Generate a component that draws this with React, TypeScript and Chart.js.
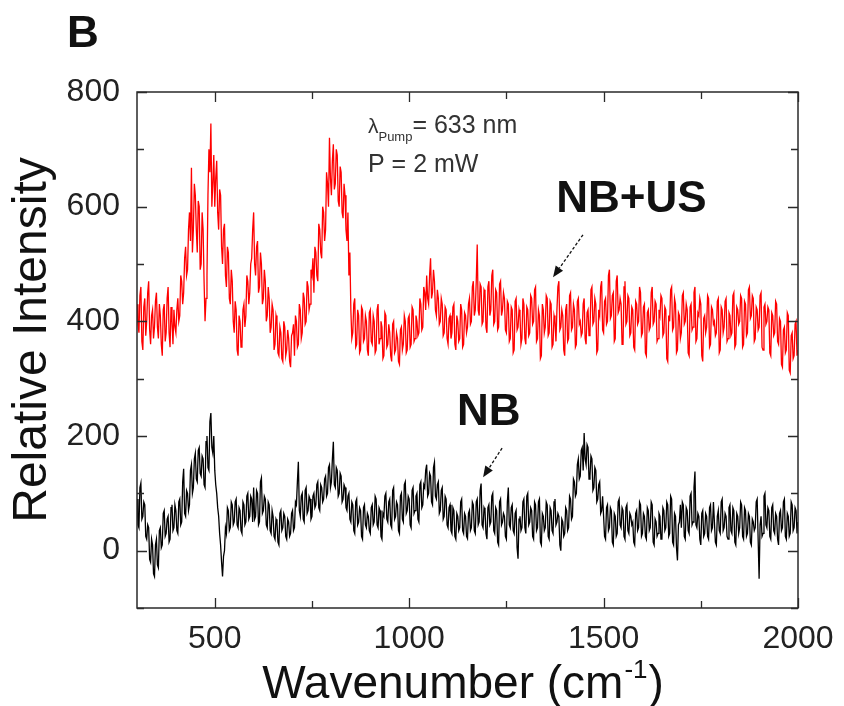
import React, { useEffect, useRef } from "react";
import { Chart, registerables } from "chart.js";

Chart.register(...registerables);

// Wavenumber sampling grid (cm^-1)
const WN_START = 300;
const WN_STEP = 2.5;

// NB+US spectrum (red), one row = 50 cm^-1
const nbUs: number[] = [
  430, 395, 380, 445, 460, 365, 350, 425, 440, 375, 400, 450, 470, 385, 360, 410, 420, 370, 390, 435, // 300
  450, 390, 370, 430, 410, 360, 340, 420, 430, 365, 380, 440, 460, 380, 355, 425, 400, 360, 420, 390, // 350
  380, 420, 440, 400, 410, 480, 470, 430, 450, 510, 530, 480, 490, 560, 590, 540, 668, 520, 560, 640, // 400
  620, 560, 520, 610, 600, 490, 500, 590, 560, 470, 400, 440, 480, 620, 700, 660, 745, 600, 640, 690, // 450
  600, 650, 680, 590, 560, 630, 620, 530, 500, 560, 570, 480, 460, 530, 520, 440, 430, 490, 470, 400, // 500
  380, 435, 420, 350, 340, 410, 400, 355, 360, 420, 430, 390, 410, 480, 470, 430, 450, 500, 510, 560, // 550
  590, 500, 480, 530, 540, 450, 460, 520, 500, 430, 440, 490, 470, 400, 410, 460, 440, 380, 390, 430, // 600
  420, 350, 360, 410, 400, 345, 340, 390, 380, 335, 330, 400, 390, 340, 350, 385, 370, 330, 320, 375, // 650
  380, 395, 340, 410, 400, 355, 360, 430, 420, 370, 380, 450, 440, 395, 400, 470, 460, 420, 430, 490, // 700
  480, 510, 450, 530, 520, 480, 470, 570, 560, 520, 510, 600, 590, 540, 560, 660, 640, 600, 720, 650, // 750
  620, 680, 709, 630, 640, 700, 690, 610, 600, 670, 660, 590, 580, 640, 620, 560, 540, 590, 480, 520, // 800
  420, 370, 380, 430, 440, 355, 360, 420, 410, 345, 350, 425, 420, 365, 370, 410, 400, 350, 340, 415, // 850
  420, 365, 360, 410, 400, 345, 350, 420, 430, 360, 370, 400, 390, 335, 340, 415, 410, 355, 360, 395, // 900
  380, 340, 330, 395, 400, 345, 350, 380, 370, 330, 325, 385, 390, 350, 360, 410, 400, 345, 350, 405, // 950
  410, 355, 360, 425, 420, 365, 370, 410, 400, 375, 380, 440, 430, 385, 390, 460, 450, 420, 480, 440, // 1000
  430, 480, 510, 440, 450, 490, 470, 420, 410, 455, 440, 395, 400, 440, 430, 375, 380, 425, 420, 370, // 1050
  360, 405, 410, 370, 380, 425, 430, 360, 350, 410, 400, 365, 370, 430, 420, 355, 360, 415, 410, 380, // 1100
  390, 430, 440, 395, 400, 460, 470, 410, 420, 470, 534, 420, 410, 465, 460, 395, 400, 455, 450, 390, // 1150
  380, 460, 470, 410, 420, 480, 490, 395, 400, 455, 450, 385, 390, 465, 470, 410, 420, 450, 440, 385, // 1200
  380, 435, 430, 365, 370, 425, 420, 345, 350, 435, 440, 385, 390, 420, 410, 360, 370, 440, 430, 370, // 1250
  360, 425, 420, 375, 380, 445, 440, 395, 400, 455, 460, 365, 370, 420, 410, 335, 340, 430, 420, 380, // 1300
  390, 445, 440, 375, 380, 435, 430, 355, 360, 410, 400, 365, 420, 460, 470, 385, 390, 420, 410, 350, // 1350
  340, 420, 430, 365, 370, 445, 450, 385, 390, 430, 420, 355, 360, 435, 440, 395, 400, 375, 380, 430, // 1400
  440, 370, 360, 415, 420, 375, 380, 455, 460, 395, 400, 440, 430, 345, 350, 420, 410, 460, 470, 385, // 1450
  380, 435, 440, 395, 400, 480, 490, 405, 410, 445, 450, 365, 370, 470, 480, 415, 420, 440, 430, 360, // 1500
  360, 460, 470, 395, 400, 445, 440, 375, 380, 425, 420, 355, 350, 435, 430, 395, 400, 460, 450, 375, // 1550
  380, 425, 430, 345, 340, 415, 420, 385, 390, 450, 460, 395, 400, 435, 430, 365, 370, 420, 410, 445, // 1600
  440, 375, 380, 425, 420, 335, 330, 410, 400, 455, 460, 385, 390, 440, 430, 345, 350, 415, 410, 370, // 1650
  380, 445, 450, 395, 400, 430, 420, 345, 340, 425, 430, 385, 390, 450, 460, 365, 370, 415, 410, 440, // 1700
  430, 340, 330, 405, 410, 380, 390, 445, 440, 355, 360, 425, 420, 395, 400, 375, 380, 435, 440, 345, // 1750
  350, 425, 420, 380, 390, 435, 440, 365, 370, 415, 410, 375, 380, 445, 450, 355, 360, 425, 420, 395, // 1800
  400, 445, 440, 355, 360, 435, 430, 375, 380, 455, 460, 405, 410, 445, 440, 365, 370, 425, 420, 385, // 1850
  390, 445, 450, 355, 350, 425, 430, 395, 400, 425, 420, 345, 340, 415, 410, 375, 380, 435, 430, 365, // 1900
  360, 405, 400, 325, 320, 385, 390, 345, 350, 415, 410, 315, 310, 375, 380, 335, 340, 395, 400, 340, // 1950
  350, // 2000
];

// NB spectrum (black), one row = 50 cm^-1
const nb: number[] = [
  90, 45, 40, 110, 118, 55, 60, 85, 80, 25, 20, 45, 40, -15, -20, 20, 10, -40, -45, 10, // 300
  20, -25, -30, 35, 40, 5, 10, 65, 70, 25, 30, 55, 60, 15, 20, 75, 80, 35, 40, 80, // 350
  70, 35, 30, 85, 90, 45, 50, 120, 143, 65, 60, 105, 100, 70, 80, 140, 150, 100, 110, 160, // 400
  170, 125, 120, 175, 180, 135, 130, 165, 160, 115, 110, 190, 200, 145, 140, 225, 240, 180, 170, 200, // 450
  140, 115, 100, 75, 60, 30, 10, -20, -45, -10, 0, 40, 30, 75, 70, 35, 40, 85, 80, 45, // 500
  50, 85, 90, 45, 40, 75, 70, 35, 30, 85, 80, 45, 50, 95, 100, 55, 60, 95, 90, 50, // 550
  110, 55, 60, 105, 100, 45, 50, 120, 127, 65, 70, 95, 90, 45, 40, 85, 80, 35, 30, 70, // 600
  60, 25, 20, 55, 50, 15, 10, 65, 70, 35, 40, 65, 60, 25, 20, 55, 50, 25, 30, 65, // 650
  70, 35, 40, 85, 80, 120, 155, 70, 60, 95, 100, 55, 50, 105, 110, 65, 70, 95, 90, 55, // 700
  60, 95, 100, 75, 80, 115, 120, 75, 70, 115, 110, 85, 90, 125, 130, 95, 100, 145, 150, 110, // 750
  120, 160, 190, 115, 110, 145, 140, 95, 100, 135, 130, 85, 90, 115, 110, 75, 70, 95, 100, 55, // 800
  50, 85, 80, 35, 30, 85, 90, 45, 50, 75, 70, 25, 20, 75, 80, 45, 40, 65, 60, 35, // 850
  30, 75, 80, 45, 50, 95, 90, 45, 40, 75, 70, 25, 20, 65, 60, 95, 100, 55, 50, 85, // 900
  90, 45, 40, 105, 110, 55, 60, 85, 80, 35, 30, 95, 100, 55, 50, 115, 120, 65, 70, 95, // 950
  90, 45, 40, 105, 110, 65, 70, 95, 100, 55, 50, 115, 120, 75, 80, 115, 110, 140, 150, 95, // 1000
  100, 135, 130, 85, 80, 145, 154, 95, 90, 115, 120, 65, 70, 105, 110, 55, 60, 95, 90, 45, // 1050
  40, 75, 80, 35, 30, 75, 70, 25, 20, 65, 60, 35, 40, 85, 90, 35, 30, 65, 60, 25, // 1100
  21, 65, 70, 35, 40, 85, 80, 35, 30, 85, 90, 45, 50, 105, 117, 45, 40, 75, 70, 30, // 1150
  20, 75, 80, 45, 50, 95, 100, 35, 30, 75, 70, 15, 10, 85, 90, 45, 50, 65, 60, 25, // 1200
  20, 85, 110, 45, 40, 75, 80, 35, 30, 65, 70, 5, -14, 55, 60, 35, 40, 85, 90, 40, // 1250
  30, 95, 100, 45, 50, 75, 70, 25, 20, 85, 80, 35, 40, 85, 90, 15, 10, 65, 60, 35, // 1300
  40, 85, 80, 25, 20, 75, 70, 35, 30, 85, 90, 45, 50, 65, 60, 10, 0, 55, 50, 25, // 1350
  30, 75, 70, 35, 40, 95, 90, 55, 60, 125, 120, 95, 100, 150, 160, 125, 130, 175, 180, 140, // 1400
  205, 160, 150, 185, 180, 125, 130, 165, 160, 105, 110, 145, 140, 85, 90, 115, 120, 65, 70, 95, // 1450
  60, 25, 20, 75, 80, 35, 40, 75, 70, 15, 10, 65, 60, 25, 30, 85, 90, 45, 40, 75, // 1500
  70, 25, 20, 75, 80, 35, 30, 65, 60, 45, 50, 15, 10, 65, 70, 35, 40, 85, 80, 25, // 1550
  30, 65, 60, 25, 20, 75, 70, 35, 40, 85, 80, 15, 10, 55, 50, 25, 30, 65, 60, 20, // 1600
  20, 75, 70, 35, 40, 85, 80, 25, 30, 95, 90, 15, 10, 65, 60, 5, -17, 45, 50, 80, // 1650
  40, 85, 80, 25, 20, 75, 70, 35, 30, 95, 100, 45, 50, 110, 138, 45, 40, 65, 60, 20, // 1700
  10, 65, 70, 25, 30, 65, 60, 25, 20, 75, 80, 35, 40, 85, 50, 15, 10, 60, 70, 35, // 1750
  30, 85, 90, 35, 40, 65, 60, 25, 20, 75, 80, 35, 30, 75, 70, 15, 10, 65, 60, 30, // 1800
  40, 85, 80, 25, 20, 75, 70, 25, 30, 65, 60, 15, 10, 55, 50, 35, 40, 85, 90, 20, // 1850
  -49, 45, 60, 25, 30, 95, 100, 45, 40, 75, 70, 25, 20, 75, 80, 35, 30, 65, 60, 20, // 1900
  10, 65, 70, 35, 40, 85, 90, 25, 20, 65, 60, 25, 30, 85, 80, 35, 40, 75, 70, 30, // 1950
  50, // 2000
];

const X_MIN = 300;
const X_MAX = 2000;
const Y_MIN = -100;
const Y_MAX = 800;
const X_TICKS = [500, 750, 1000, 1250, 1500, 1750, 2000];
const Y_TICKS = [-100, 0, 100, 200, 300, 400, 500, 600, 700, 800];

const FONT = '"Liberation Sans", Arial, sans-serif';

// annotation anchors in data units
const PUMP_TEXT_AT = { x: 894, y: 729 };
const POWER_TEXT_AT = { x: 894, y: 660 };
const NBUS_LABEL_AT = { x: 1378, y: 591 };
const NBUS_ARROW = { x1: 1447, y1: 551, x2: 1370, y2: 477 };
const NB_LABEL_AT = { x: 1123, y: 219 };
const NB_ARROW = { x1: 1239, y1: 179, x2: 1190, y2: 128 };

function toPoints(values: number[]) {
  return values.map((v, i) => ({ x: WN_START + i * WN_STEP, y: v }));
}

function drawArrow(ctx: CanvasRenderingContext2D, x1: number, y1: number, x2: number, y2: number) {
  const ang = Math.atan2(y2 - y1, x2 - x1);
  const headLen = 11;
  const headW = 4.5;
  const bx = x2 - Math.cos(ang) * headLen;
  const by = y2 - Math.sin(ang) * headLen;
  ctx.save();
  ctx.strokeStyle = "#111";
  ctx.fillStyle = "#111";
  ctx.lineWidth = 1.3;
  ctx.setLineDash([3, 2]);
  ctx.beginPath();
  ctx.moveTo(x1, y1);
  ctx.lineTo(bx, by);
  ctx.stroke();
  ctx.setLineDash([]);
  ctx.beginPath();
  ctx.moveTo(x2, y2);
  ctx.lineTo(bx + Math.sin(ang) * headW, by - Math.cos(ang) * headW);
  ctx.lineTo(bx - Math.sin(ang) * headW, by + Math.cos(ang) * headW);
  ctx.closePath();
  ctx.fill();
  ctx.restore();
}

const decorPlugin = {
  id: "decor",
  afterDraw(chart: any) {
    const { ctx, chartArea: a, scales } = chart;
    const xs = scales.x;
    const ys = scales.y;
    ctx.save();
    // frame
    ctx.strokeStyle = "#2a2a2a";
    ctx.lineWidth = 1.5;
    ctx.strokeRect(a.left, a.top, a.right - a.left, a.bottom - a.top);
    // inward ticks
    ctx.lineWidth = 1.3;
    ctx.beginPath();
    for (const v of X_TICKS) {
      const px = Math.round(xs.getPixelForValue(v)) + 0.5;
      const len = v % 500 === 0 ? 10 : 7;
      ctx.moveTo(px, a.bottom);
      ctx.lineTo(px, a.bottom - len);
      ctx.moveTo(px, a.top);
      ctx.lineTo(px, a.top + len);
    }
    for (const v of Y_TICKS) {
      const py = Math.round(ys.getPixelForValue(v)) + 0.5;
      const len = v % 200 === 0 ? 10 : 7;
      ctx.moveTo(a.left, py);
      ctx.lineTo(a.left + len, py);
      ctx.moveTo(a.right, py);
      ctx.lineTo(a.right - len, py);
    }
    ctx.stroke();

    // panel letter
    ctx.fillStyle = "#111";
    ctx.textBaseline = "alphabetic";
    ctx.textAlign = "left";
    ctx.font = `bold 44px ${FONT}`;
    ctx.fillText("B", 67, 47);

    // y title
    ctx.save();
    ctx.translate(46, 340);
    ctx.rotate(-Math.PI / 2);
    ctx.textAlign = "center";
    ctx.font = `48px ${FONT}`;
    ctx.fillStyle = "#111";
    ctx.fillText("Relative Intensity", 0, 0);
    ctx.restore();

    // x title with superscript
    ctx.font = `46px ${FONT}`;
    const main = "Wavenumber (cm";
    const sup = "-1";
    const close = ")";
    const wMain = ctx.measureText(main).width;
    ctx.font = `26px ${FONT}`;
    const wSup = ctx.measureText(sup).width;
    ctx.font = `46px ${FONT}`;
    const wClose = ctx.measureText(close).width;
    const total = wMain + wSup + wClose + 2;
    let tx = 463 - total / 2;
    const tb = 698;
    ctx.fillStyle = "#111";
    ctx.fillText(main, tx, tb);
    tx += wMain + 1;
    ctx.font = `26px ${FONT}`;
    ctx.fillText(sup, tx, tb - 20);
    tx += wSup + 1;
    ctx.font = `46px ${FONT}`;
    ctx.fillText(close, tx, tb);

    // pump annotation
    const lx = xs.getPixelForValue(PUMP_TEXT_AT.x);
    const ly = ys.getPixelForValue(PUMP_TEXT_AT.y);
    ctx.fillStyle = "#333";
    ctx.font = `21px ${FONT}`;
    ctx.fillText("λ", lx, ly);
    const wl = ctx.measureText("λ").width;
    ctx.font = `13px ${FONT}`;
    ctx.fillText("Pump", lx + wl, ly + 8);
    const wp = ctx.measureText("Pump").width;
    ctx.font = `25px ${FONT}`;
    ctx.fillText("= 633 nm", lx + wl + wp, ly);
    const px2 = xs.getPixelForValue(POWER_TEXT_AT.x);
    const py2 = ys.getPixelForValue(POWER_TEXT_AT.y);
    ctx.fillText("P = 2 mW", px2, py2);

    // sample labels
    ctx.fillStyle = "#111";
    ctx.font = `bold 44px ${FONT}`;
    ctx.fillText("NB+US", xs.getPixelForValue(NBUS_LABEL_AT.x), ys.getPixelForValue(NBUS_LABEL_AT.y));
    ctx.fillText("NB", xs.getPixelForValue(NB_LABEL_AT.x), ys.getPixelForValue(NB_LABEL_AT.y));

    drawArrow(
      ctx,
      xs.getPixelForValue(NBUS_ARROW.x1),
      ys.getPixelForValue(NBUS_ARROW.y1),
      xs.getPixelForValue(NBUS_ARROW.x2),
      ys.getPixelForValue(NBUS_ARROW.y2)
    );
    drawArrow(
      ctx,
      xs.getPixelForValue(NB_ARROW.x1),
      ys.getPixelForValue(NB_ARROW.y1),
      xs.getPixelForValue(NB_ARROW.x2),
      ys.getPixelForValue(NB_ARROW.y2)
    );
    ctx.restore();
  },
};

export default function App() {
  const canvasRef = useRef<HTMLCanvasElement | null>(null);

  useEffect(() => {
    if (!canvasRef.current) return;
    const chart = new Chart(canvasRef.current, {
      type: "line",
      data: {
        datasets: [
          {
            label: "NB+US",
            data: toPoints(nbUs),
            borderColor: "#ff0000",
            borderWidth: 1.3,
            pointRadius: 0,
            tension: 0,
          },
          {
            label: "NB",
            data: toPoints(nb),
            borderColor: "#000000",
            borderWidth: 1.3,
            pointRadius: 0,
            tension: 0,
          },
        ],
      },
      options: {
        responsive: false,
        animation: false,
        layout: { padding: { left: 0, top: 92, right: 46, bottom: 0 } },
        plugins: {
          legend: { display: false },
          tooltip: { enabled: false },
          title: { display: false },
        },
        scales: {
          x: {
            type: "linear",
            min: X_MIN,
            max: X_MAX,
            grid: { display: false, drawTicks: false },
            border: { display: false },
            afterBuildTicks: (s: any) => {
              s.ticks = X_TICKS.map((v) => ({ value: v }));
            },
            ticks: {
              autoSkip: false,
              maxRotation: 0,
              padding: 12,
              color: "#222",
              font: { family: FONT, size: 32 },
              callback: (v: any) => (Number(v) % 500 === 0 ? String(v) : ""),
            },
            afterFit: (s: any) => {
              s.height = 98;
              s.paddingLeft = 0;
              s.paddingRight = 0;
            },
          },
          y: {
            type: "linear",
            min: Y_MIN,
            max: Y_MAX,
            grid: { display: false, drawTicks: false },
            border: { display: false },
            afterBuildTicks: (s: any) => {
              s.ticks = Y_TICKS.map((v) => ({ value: v }));
            },
            ticks: {
              autoSkip: false,
              padding: 17,
              color: "#222",
              font: { family: FONT, size: 32 },
              callback: (v: any) => (Number(v) % 200 === 0 ? String(v) : ""),
            },
            afterFit: (s: any) => {
              s.width = 137;
              s.paddingTop = 0;
              s.paddingBottom = 0;
            },
          },
        },
      },
      plugins: [decorPlugin],
    });
    return () => chart.destroy();
  }, []);

  return (
    <div style={{ position: "absolute", left: 0, top: 0, width: 844, height: 706, background: "#fff" }}>
      <canvas ref={canvasRef} width={844} height={706} style={{ width: 844, height: 706, display: "block" }} />
    </div>
  );
}
